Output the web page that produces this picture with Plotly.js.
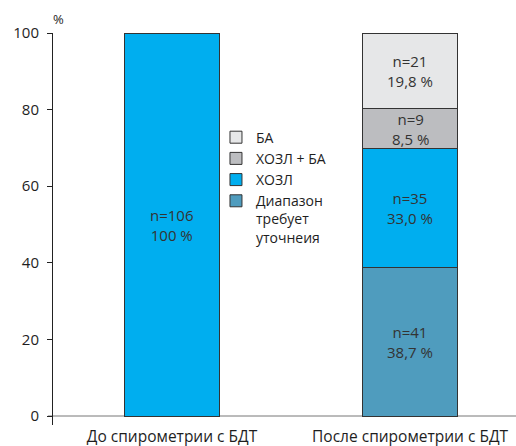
<!DOCTYPE html>
<html>
<head>
<meta charset="utf-8">
<script src="https://cdn.plot.ly/plotly-3.0.1.min.js"></script>
<style>html,body{margin:0;padding:0;background:#fff;}#chart{width:516px;height:446px;}</style>
</head>
<body>
<div id="chart"></div>
<script>
// Categories
const categories = ["До спирометрии с БДТ", "После спирометрии с БДТ"];
// Series names (bottom to top in stack)
const seriesNames = ["Диапазон<br>требует<br>уточнеия", "ХОЗЛ", "ХОЗЛ + БА", "БА"];
// Bar segment heights (%) as drawn
const diapazon = [0, 38.7];
const hozl = [100, 31.2];
const hozlBa = [0, 10.3];
const ba = [0, 19.8];
// Segment labels
const nLabels = [
  [null, "n=41"],
  ["n=106", "n=35"],
  [null, "n=9"],
  [null, "n=21"]
];
const pctLabels = [
  [null, "38,7 %"],
  ["100 %", "33,0 %"],
  [null, "8,5 %"],
  [null, "19,8 %"]
];
const yTicks = [0, 20, 40, 60, 80, 100];

const colors = ["#4f9cbe", "#00aeef", "#bcbdc0", "#e6e7e8"];
const seriesValues = [diapazon, hozl, hozlBa, ba];
const FONT = "'Open Sans', sans-serif";
const TXT = "#1e1e1e";

const traces = seriesValues.map((vals, i) => ({
  type: "bar",
  name: seriesNames[i],
  x: categories,
  y: vals,
  width: 0.4,
  marker: {color: colors[i], line: {color: "#333333", width: 1}},
  hoverinfo: "skip"
}));

const annotations = [];
categories.forEach((cat, ci) => {
  let base = 0;
  seriesValues.forEach((vals, si) => {
    const v = vals[ci];
    if (v > 0 && nLabels[si][ci]) {
      annotations.push({
        x: cat, y: base + v / 2, xref: "x", yref: "y",
        text: nLabels[si][ci] + "<br>" + pctLabels[si][ci],
        showarrow: false,
        font: {family: FONT, size: 15, color: "#333333"},
        align: "center"
      });
    }
    base += v;
  });
});
annotations.push({
  x: 0.011, y: 1.036, xref: "paper", yref: "paper",
  text: "%", showarrow: false, xanchor: "center", yanchor: "middle",
  font: {family: FONT, size: 13, color: TXT}
});

const layout = {
  width: 516, height: 446,
  margin: {l: 53, r: 0, t: 33, b: 21, pad: 0},
  paper_bgcolor: "#ffffff", plot_bgcolor: "#ffffff",
  barmode: "stack",
  showlegend: true,
  legend: {
    x: 0.352, y: 0.774, xanchor: "left", yanchor: "top",
    traceorder: "reversed", valign: "top",
    font: {family: FONT, size: 14, color: TXT},
    bgcolor: "rgba(0,0,0,0)", tracegroupgap: 0, itemwidth: 30
  },
  font: {family: FONT, size: 15, color: TXT},
  xaxis: {
    range: [-0.5, 1.445], showgrid: false, zeroline: false, showline: false,
    ticks: "", automargin: false, fixedrange: true,
    tickfont: {family: FONT, size: 15.5, color: TXT}
  },
  yaxis: {
    range: [-2.35, 100], tickvals: yTicks, showgrid: false, zeroline: false,
    showline: true, linecolor: "#222222", linewidth: 1,
    ticks: "outside", ticklen: 5, tickcolor: "#222222", automargin: false,
    ticklabelstandoff: 5,
    tickfont: {family: FONT, size: 15, color: TXT}
  },
  shapes: [{
    type: "line", xref: "paper", yref: "y", x0: -0.011, x1: 1, y0: 0, y1: 0,
    line: {color: "#777777", width: 1}, layer: "below"
  }],
  annotations: annotations
};

Plotly.newPlot("chart", traces, layout, {displayModeBar: false, staticPlot: true});
</script>
</body>
</html>
